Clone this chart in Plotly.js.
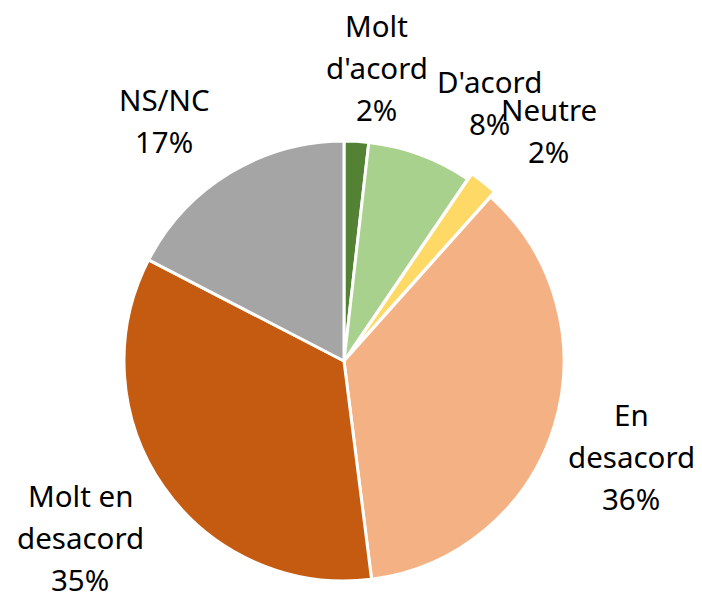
<!DOCTYPE html>
<html>
<head>
<meta charset="utf-8">
<script src="https://cdn.plot.ly/plotly-3.0.1.min.js"></script>
<style>html,body{margin:0;padding:0;background:#fff;}#chart{width:702px;height:599px;}</style>
</head>
<body>
<div id="chart"></div>
<script>
const categories = ["Molt d'acord", "D'acord", "Neutre", "En desacord", "Molt en desacord", "NS/NC"];
const labelLines = [["Molt", "d'acord"], ["D'acord"], ["Neutre"], ["En", "desacord"], ["Molt en", "desacord"], ["NS/NC"]];
const values = [1.8, 7.7, 2.1, 36.4, 34.6, 17.4];
const colors = ["#548235", "#A9D18E", "#FFD966", "#F4B183", "#C55A11", "#A5A5A5"];
const pulls = [0, 0, 0.03, 0, 0, 0];
// label placement nudges (px) relative to radial position
const nudges = [[16, 6], [41, 23], [20, 6], [1, 6], [-18, 5], [-24, 16]];

const W = 702, H = 599;
const cx = 344, cy = 361, R = 220;
const lineGap = 42;
const maxPull = Math.max(...pulls);
const half = R * (1 + maxPull);

const total = values.reduce((a, b) => a + b, 0);
let cum = 0;
const annotations = [];
values.forEach((v, i) => {
  const pct = Math.round(v / total * 100);
  const mid = (cum + v / 2) / total * 2 * Math.PI;
  cum += v;
  const lr = 300;
  const px = cx + lr * Math.sin(mid) + nudges[i][0];
  const py = cy - lr * Math.cos(mid) + nudges[i][1];
  const lines = labelLines[i].concat([pct + "%"]);
  lines.forEach((t, k) => {
    const ly = py + (k - (lines.length - 1) / 2) * lineGap;
    annotations.push({
      text: t,
      x: px / W, y: 1 - ly / H, xref: 'paper', yref: 'paper',
      xanchor: 'center', yanchor: 'middle', showarrow: false,
      font: {family: "Noto Sans, Open Sans, sans-serif", size: 29.5, color: '#000'}
    });
  });
});

const trace = {
  type: 'pie',
  labels: categories,
  values: values,
  sort: false,
  direction: 'clockwise',
  rotation: 0,
  pull: pulls,
  textinfo: 'none',
  hoverinfo: 'none',
  showlegend: false,
  marker: {colors: colors, line: {color: '#ffffff', width: 3}},
  domain: {
    x: [(cx - half) / W, (cx + half) / W],
    y: [1 - (cy + half) / H, 1 - (cy - half) / H]
  }
};

Plotly.newPlot('chart', [trace], {
  width: W, height: H,
  margin: {l: 0, r: 0, t: 0, b: 0},
  paper_bgcolor: '#fff',
  annotations: annotations,
  showlegend: false
}, {staticPlot: true});
</script>
</body>
</html>
